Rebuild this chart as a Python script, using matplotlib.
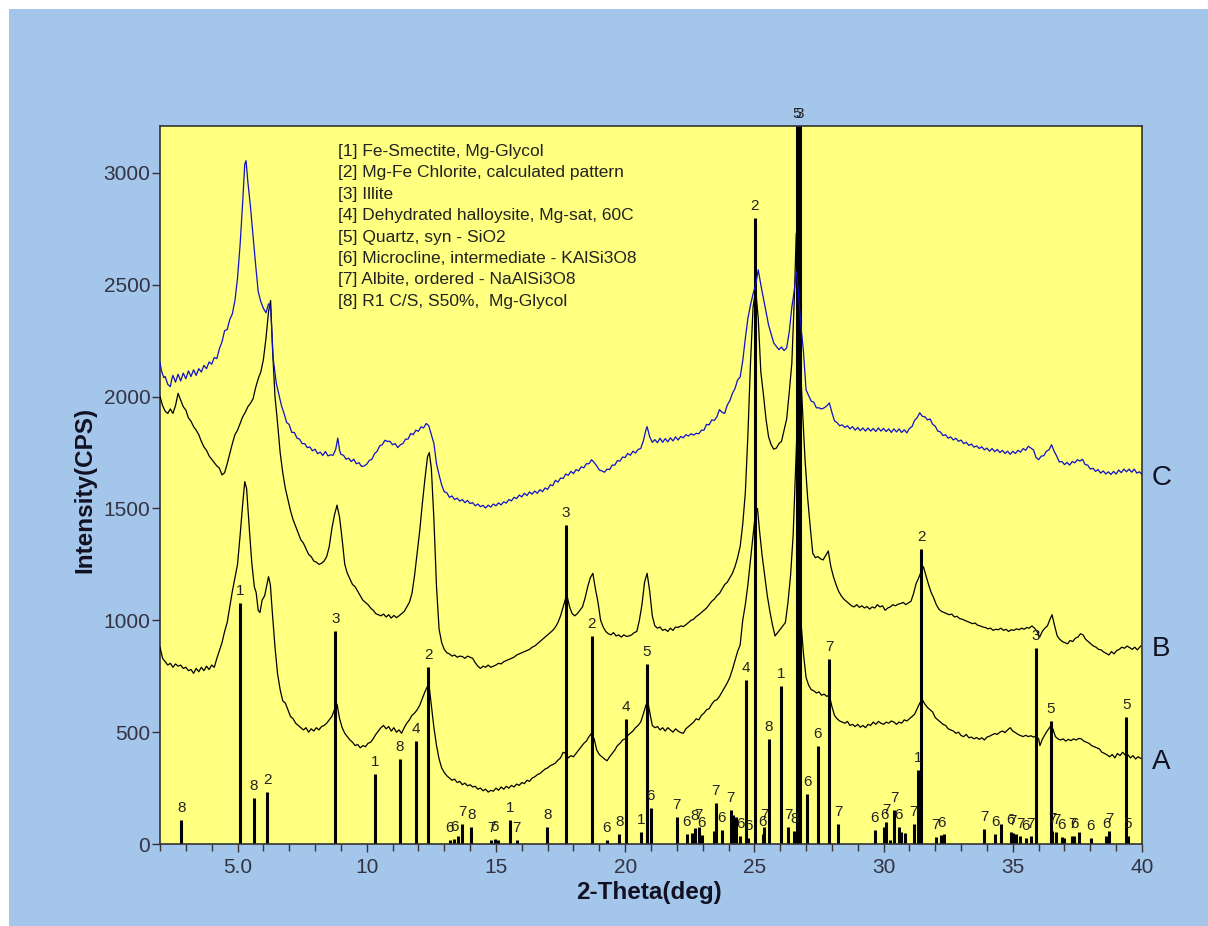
import numpy as np
import matplotlib
matplotlib.use("Agg")
import matplotlib.pyplot as plt
from matplotlib.patches import Rectangle
from matplotlib.ticker import MultipleLocator

plt.rcParams['font.family'] = ['Liberation Sans', 'DejaVu Sans']

# scan A (bottom, black)
trace_a = [
    (2.0, 880), (2.1, 830), (2.2, 815), (2.3, 800), (2.4, 808), (2.5, 790), (2.6, 805), (2.7, 795),
    (2.8, 800), (2.9, 785), (3.0, 790), (3.1, 775), (3.2, 780), (3.3, 763), (3.4, 785), (3.5, 770),
    (3.6, 790), (3.7, 775), (3.8, 795), (3.9, 780), (4.0, 800), (4.1, 790), (4.2, 830), (4.3, 865),
    (4.4, 900), (4.5, 950), (4.6, 990), (4.7, 1060), (4.8, 1130), (4.9, 1190), (5.0, 1250), (5.1, 1380),
    (5.2, 1520), (5.28, 1620), (5.35, 1590), (5.45, 1420), (5.55, 1260), (5.65, 1150), (5.72, 1125),
    (5.8, 1045), (5.87, 1035), (5.95, 1090), (6.05, 1110), (6.12, 1150), (6.2, 1195), (6.27, 1160),
    (6.35, 1030), (6.45, 880), (6.55, 760), (6.65, 690), (6.75, 640), (6.85, 630), (6.95, 600),
    (7.05, 570), (7.15, 560), (7.25, 540), (7.35, 530), (7.45, 520), (7.55, 510), (7.65, 520),
    (7.75, 500), (7.85, 515), (7.95, 505), (8.05, 520), (8.15, 510), (8.25, 525), (8.35, 530),
    (8.45, 540), (8.55, 555), (8.65, 570), (8.75, 600), (8.85, 625), (8.95, 560), (9.05, 520),
    (9.15, 495), (9.25, 480), (9.35, 465), (9.45, 455), (9.55, 440), (9.65, 445), (9.75, 430),
    (9.85, 440), (9.95, 435), (10.05, 450), (10.15, 455), (10.25, 470), (10.35, 490), (10.45, 505),
    (10.55, 520), (10.65, 530), (10.75, 515), (10.85, 525), (10.95, 505), (11.05, 520), (11.15, 500),
    (11.25, 510), (11.35, 495), (11.45, 520), (11.55, 540), (11.65, 555), (11.75, 575), (11.85, 585),
    (11.95, 600), (12.05, 620), (12.15, 650), (12.25, 680), (12.35, 705), (12.42, 700), (12.5, 620),
    (12.6, 520), (12.7, 440), (12.8, 380), (12.9, 340), (13.0, 320), (13.1, 305), (13.2, 295),
    (13.3, 285), (13.4, 290), (13.5, 275), (13.6, 280), (13.7, 265), (13.8, 272), (13.9, 260),
    (14.0, 265), (14.1, 255), (14.2, 258), (14.3, 245), (14.4, 250), (14.5, 238), (14.6, 245),
    (14.7, 232), (14.8, 240), (14.9, 236), (15.0, 250), (15.1, 240), (15.2, 255), (15.3, 245),
    (15.4, 258), (15.5, 250), (15.6, 262), (15.7, 255), (15.8, 268), (15.9, 262), (16.0, 275),
    (16.1, 270), (16.2, 285), (16.3, 280), (16.4, 295), (16.5, 300), (16.6, 310), (16.7, 315),
    (16.8, 325), (16.9, 335), (17.0, 340), (17.1, 350), (17.2, 355), (17.3, 362), (17.4, 375),
    (17.5, 385), (17.6, 410), (17.7, 405), (17.8, 385), (17.9, 395), (18.0, 390), (18.1, 405),
    (18.2, 420), (18.3, 435), (18.4, 450), (18.5, 460), (18.6, 480), (18.7, 495), (18.8, 470),
    (18.9, 420), (19.0, 400), (19.1, 390), (19.2, 380), (19.3, 372), (19.4, 390), (19.5, 405),
    (19.6, 420), (19.7, 440), (19.8, 450), (19.9, 465), (20.0, 470), (20.1, 485), (20.2, 495),
    (20.3, 505), (20.4, 520), (20.5, 530), (20.6, 545), (20.7, 580), (20.8, 620), (20.88, 635),
    (20.95, 590), (21.05, 530), (21.15, 520), (21.25, 525), (21.35, 510), (21.45, 520), (21.55, 505),
    (21.65, 520), (21.75, 510), (21.85, 500), (21.95, 515), (22.05, 505), (22.15, 498), (22.25, 495),
    (22.35, 515), (22.45, 525), (22.55, 535), (22.65, 545), (22.75, 560), (22.85, 555), (22.95, 575),
    (23.05, 585), (23.15, 600), (23.25, 605), (23.35, 625), (23.45, 640), (23.55, 645), (23.65, 660),
    (23.75, 680), (23.85, 700), (23.95, 720), (24.05, 745), (24.15, 780), (24.25, 820), (24.35, 860),
    (24.45, 890), (24.55, 1000), (24.65, 1070), (24.75, 1160), (24.85, 1270), (24.95, 1380),
    (25.05, 1490), (25.12, 1500), (25.2, 1400), (25.3, 1290), (25.4, 1200), (25.5, 1110), (25.6, 1040),
    (25.7, 980), (25.8, 930), (25.9, 945), (26.0, 960), (26.1, 975), (26.2, 990), (26.3, 1080),
    (26.4, 1200), (26.5, 1380), (26.6, 1700), (26.65, 1850), (26.72, 1500), (26.8, 1000), (26.9, 850),
    (27.0, 745), (27.1, 710), (27.2, 690), (27.3, 685), (27.4, 675), (27.5, 680), (27.6, 665),
    (27.7, 670), (27.8, 660), (27.9, 665), (28.0, 615), (28.1, 575), (28.2, 560), (28.3, 550),
    (28.4, 545), (28.5, 540), (28.6, 548), (28.7, 530), (28.8, 535), (28.9, 525), (29.0, 535),
    (29.1, 522), (29.2, 530), (29.3, 520), (29.4, 535), (29.5, 530), (29.6, 545), (29.7, 535),
    (29.8, 548), (29.9, 540), (30.0, 535), (30.1, 545), (30.2, 540), (30.3, 550), (30.4, 545),
    (30.5, 535), (30.6, 545), (30.7, 540), (30.8, 555), (30.9, 550), (31.0, 560), (31.1, 570),
    (31.2, 580), (31.3, 605), (31.4, 630), (31.5, 645), (31.6, 625), (31.7, 610), (31.8, 600),
    (31.9, 590), (32.0, 565), (32.1, 555), (32.2, 545), (32.3, 535), (32.4, 530), (32.5, 515),
    (32.6, 510), (32.7, 505), (32.8, 495), (32.9, 500), (33.0, 485), (33.1, 480), (33.2, 490),
    (33.3, 475), (33.4, 478), (33.5, 470), (33.6, 476), (33.7, 468), (33.8, 475), (33.9, 465),
    (34.0, 478), (34.1, 482), (34.2, 488), (34.3, 494), (34.4, 490), (34.5, 500), (34.6, 505),
    (34.7, 498), (34.8, 510), (34.9, 520), (35.0, 505), (35.1, 498), (35.2, 490), (35.3, 485),
    (35.4, 480), (35.5, 486), (35.6, 480), (35.7, 484), (35.8, 478), (35.9, 482), (36.0, 470),
    (36.05, 440), (36.15, 470), (36.3, 500), (36.45, 525), (36.55, 515), (36.65, 480), (36.75, 470),
    (36.85, 465), (36.95, 470), (37.05, 460), (37.15, 468), (37.25, 462), (37.35, 470), (37.45, 465),
    (37.55, 472), (37.65, 470), (37.75, 460), (37.85, 455), (37.95, 450), (38.05, 440), (38.15, 435),
    (38.25, 430), (38.35, 425), (38.45, 410), (38.55, 405), (38.65, 398), (38.75, 390), (38.85, 400),
    (38.95, 385), (39.05, 405), (39.15, 395), (39.25, 410), (39.35, 398), (39.45, 400), (39.55, 385),
    (39.65, 395), (39.75, 380), (39.85, 390), (39.95, 383),
]

# scan B (middle, black)
trace_b = [
    (2.0, 2000), (2.1, 1960), (2.2, 1935), (2.3, 1925), (2.4, 1945), (2.5, 1925), (2.6, 1960),
    (2.7, 2015), (2.8, 1985), (2.9, 1955), (3.0, 1940), (3.1, 1905), (3.2, 1890), (3.3, 1866),
    (3.4, 1850), (3.5, 1830), (3.6, 1800), (3.7, 1775), (3.8, 1760), (3.9, 1735), (4.0, 1720),
    (4.1, 1705), (4.2, 1690), (4.3, 1680), (4.4, 1650), (4.5, 1660), (4.6, 1700), (4.7, 1745),
    (4.8, 1790), (4.9, 1830), (5.0, 1850), (5.1, 1880), (5.2, 1910), (5.3, 1930), (5.4, 1955),
    (5.5, 1970), (5.6, 1990), (5.7, 2040), (5.8, 2080), (5.9, 2110), (6.0, 2165), (6.1, 2260),
    (6.2, 2380), (6.28, 2430), (6.36, 2200), (6.45, 2000), (6.55, 1880), (6.65, 1750), (6.75, 1660),
    (6.85, 1590), (6.95, 1540), (7.05, 1490), (7.15, 1450), (7.25, 1420), (7.35, 1390), (7.45, 1360),
    (7.55, 1345), (7.65, 1320), (7.75, 1295), (7.85, 1285), (7.95, 1265), (8.05, 1260), (8.15, 1250),
    (8.25, 1255), (8.35, 1265), (8.45, 1285), (8.55, 1330), (8.65, 1410), (8.75, 1470), (8.85, 1515),
    (8.95, 1460), (9.05, 1360), (9.15, 1250), (9.25, 1210), (9.35, 1185), (9.45, 1160), (9.55, 1150),
    (9.65, 1130), (9.75, 1110), (9.85, 1090), (9.95, 1080), (10.05, 1070), (10.15, 1055),
    (10.25, 1045), (10.35, 1030), (10.45, 1025), (10.55, 1020), (10.65, 1028), (10.75, 1015),
    (10.85, 1025), (10.95, 1010), (11.05, 1022), (11.15, 1012), (11.25, 1020), (11.35, 1030),
    (11.45, 1040), (11.55, 1060), (11.65, 1080), (11.75, 1120), (11.85, 1200), (11.95, 1300),
    (12.05, 1400), (12.15, 1520), (12.25, 1630), (12.35, 1730), (12.42, 1750), (12.5, 1680),
    (12.6, 1450), (12.7, 1150), (12.8, 960), (12.9, 900), (13.0, 870), (13.1, 855), (13.2, 850),
    (13.3, 840), (13.4, 845), (13.5, 835), (13.6, 840), (13.7, 838), (13.8, 830), (13.9, 840),
    (14.0, 835), (14.1, 830), (14.2, 810), (14.3, 795), (14.4, 785), (14.5, 795), (14.6, 790),
    (14.7, 800), (14.8, 790), (14.9, 795), (15.0, 800), (15.1, 808), (15.2, 805), (15.3, 815),
    (15.4, 820), (15.5, 825), (15.6, 830), (15.7, 835), (15.8, 845), (15.9, 850), (16.0, 855),
    (16.1, 860), (16.2, 865), (16.3, 870), (16.4, 880), (16.5, 885), (16.6, 895), (16.7, 905),
    (16.8, 915), (16.9, 925), (17.0, 935), (17.1, 945), (17.2, 955), (17.3, 970), (17.4, 990),
    (17.5, 1020), (17.6, 1060), (17.7, 1100), (17.75, 1110), (17.85, 1060), (17.95, 1030),
    (18.05, 1020), (18.15, 1030), (18.25, 1045), (18.35, 1060), (18.45, 1100), (18.55, 1150),
    (18.65, 1190), (18.75, 1210), (18.85, 1140), (18.95, 1080), (19.05, 1000), (19.15, 970),
    (19.25, 950), (19.35, 940), (19.45, 935), (19.55, 945), (19.65, 930), (19.75, 935), (19.85, 925),
    (19.95, 935), (20.05, 928), (20.15, 930), (20.25, 935), (20.35, 945), (20.45, 950), (20.55, 1000),
    (20.65, 1070), (20.75, 1170), (20.85, 1210), (20.95, 1130), (21.05, 1020), (21.15, 975),
    (21.25, 965), (21.35, 970), (21.45, 955), (21.55, 960), (21.65, 950), (21.75, 965), (21.85, 955),
    (21.95, 970), (22.05, 968), (22.15, 975), (22.25, 972), (22.35, 980), (22.45, 990), (22.55, 1000),
    (22.65, 1005), (22.75, 1017), (22.85, 1025), (22.95, 1035), (23.05, 1045), (23.15, 1055),
    (23.25, 1070), (23.35, 1085), (23.45, 1095), (23.55, 1110), (23.65, 1120), (23.75, 1140),
    (23.85, 1160), (23.95, 1170), (24.05, 1190), (24.15, 1210), (24.25, 1240), (24.35, 1280),
    (24.45, 1330), (24.55, 1430), (24.65, 1570), (24.75, 1830), (24.85, 2150), (24.95, 2400),
    (25.05, 2480), (25.15, 2350), (25.25, 2110), (25.35, 2010), (25.45, 1900), (25.55, 1820),
    (25.65, 1785), (25.75, 1765), (25.85, 1770), (25.95, 1790), (26.05, 1800), (26.15, 1850),
    (26.25, 1900), (26.35, 2020), (26.45, 2150), (26.55, 2450), (26.62, 2730), (26.7, 2500),
    (26.78, 2150), (26.88, 1900), (26.96, 1720), (27.06, 1550), (27.16, 1420), (27.26, 1300),
    (27.36, 1280), (27.46, 1285), (27.56, 1275), (27.66, 1270), (27.76, 1290), (27.86, 1310),
    (27.96, 1240), (28.06, 1195), (28.16, 1160), (28.26, 1130), (28.36, 1110), (28.46, 1095),
    (28.56, 1085), (28.66, 1075), (28.76, 1065), (28.86, 1060), (28.96, 1070), (29.06, 1058),
    (29.16, 1065), (29.26, 1055), (29.36, 1062), (29.46, 1050), (29.56, 1060), (29.66, 1055),
    (29.76, 1070), (29.86, 1060), (29.96, 1065), (30.06, 1045), (30.16, 1055), (30.26, 1060),
    (30.36, 1070), (30.46, 1065), (30.56, 1072), (30.66, 1075), (30.76, 1080), (30.86, 1070),
    (30.96, 1078), (31.06, 1085), (31.16, 1120), (31.26, 1165), (31.36, 1190), (31.46, 1220),
    (31.54, 1240), (31.64, 1200), (31.74, 1160), (31.84, 1125), (31.94, 1100), (32.04, 1070),
    (32.14, 1050), (32.24, 1040), (32.34, 1035), (32.44, 1030), (32.54, 1025), (32.64, 1028),
    (32.74, 1015), (32.84, 1018), (32.94, 1008), (33.04, 1005), (33.14, 1000), (33.24, 995),
    (33.34, 990), (33.44, 985), (33.54, 988), (33.64, 978), (33.74, 975), (33.84, 970), (33.94, 968),
    (34.04, 962), (34.14, 965), (34.24, 955), (34.34, 960), (34.44, 958), (34.54, 965), (34.64, 955),
    (34.74, 960), (34.84, 950), (34.94, 958), (35.04, 955), (35.14, 962), (35.24, 958), (35.34, 965),
    (35.44, 960), (35.54, 968), (35.64, 965), (35.74, 975), (35.84, 965), (35.94, 950), (36.04, 925),
    (36.14, 950), (36.24, 965), (36.34, 975), (36.44, 1005), (36.52, 1025), (36.62, 975),
    (36.72, 930), (36.82, 915), (36.92, 905), (37.02, 900), (37.12, 895), (37.22, 910), (37.32, 905),
    (37.42, 920), (37.52, 925), (37.62, 940), (37.72, 935), (37.82, 915), (37.92, 905), (38.02, 895),
    (38.12, 885), (38.22, 880), (38.32, 870), (38.42, 868), (38.52, 858), (38.62, 852), (38.72, 845),
    (38.82, 860), (38.92, 850), (39.02, 865), (39.12, 870), (39.22, 880), (39.32, 875), (39.42, 885),
    (39.52, 878), (39.62, 870), (39.72, 880), (39.82, 868), (39.95, 885),
]

# scan C (top, blue)
trace_c = [
    (2.0, 2151), (2.05, 2120), (2.1, 2100), (2.15, 2085), (2.2, 2090), (2.3, 2055), (2.4, 2045),
    (2.45, 2075), (2.5, 2095), (2.6, 2065), (2.7, 2100), (2.8, 2070), (2.9, 2105), (3.0, 2080),
    (3.1, 2115), (3.2, 2090), (3.3, 2120), (3.4, 2095), (3.5, 2125), (3.6, 2110), (3.7, 2140),
    (3.8, 2125), (3.9, 2155), (4.0, 2145), (4.1, 2175), (4.2, 2170), (4.3, 2215), (4.4, 2245),
    (4.5, 2295), (4.6, 2300), (4.7, 2345), (4.8, 2370), (4.9, 2430), (5.0, 2530), (5.1, 2680),
    (5.2, 2870), (5.28, 3040), (5.33, 3055), (5.4, 2960), (5.5, 2850), (5.6, 2720), (5.7, 2590),
    (5.8, 2470), (5.9, 2425), (6.0, 2395), (6.1, 2375), (6.2, 2415), (6.28, 2400), (6.38, 2170),
    (6.5, 2060), (6.6, 2010), (6.7, 1960), (6.8, 1925), (6.9, 1885), (7.0, 1875), (7.1, 1840),
    (7.2, 1840), (7.3, 1815), (7.4, 1810), (7.5, 1790), (7.6, 1790), (7.7, 1772), (7.8, 1775),
    (7.9, 1758), (8.0, 1765), (8.1, 1745), (8.2, 1752), (8.3, 1737), (8.4, 1755), (8.5, 1735),
    (8.6, 1740), (8.7, 1738), (8.8, 1765), (8.88, 1815), (8.95, 1760), (9.0, 1742), (9.1, 1738),
    (9.2, 1720), (9.3, 1725), (9.4, 1710), (9.5, 1720), (9.6, 1700), (9.7, 1705), (9.8, 1688),
    (9.9, 1690), (10.0, 1698), (10.1, 1715), (10.2, 1720), (10.3, 1745), (10.4, 1755), (10.5, 1780),
    (10.6, 1785), (10.7, 1805), (10.8, 1800), (10.9, 1800), (11.0, 1785), (11.1, 1790), (11.2, 1772),
    (11.3, 1785), (11.4, 1790), (11.5, 1810), (11.6, 1810), (11.7, 1835), (11.8, 1830), (11.9, 1850),
    (12.0, 1845), (12.1, 1865), (12.2, 1860), (12.3, 1880), (12.4, 1870), (12.5, 1830), (12.6, 1790),
    (12.7, 1700), (12.8, 1650), (12.9, 1605), (13.0, 1575), (13.1, 1570), (13.2, 1550), (13.3, 1556),
    (13.4, 1540), (13.5, 1546), (13.6, 1533), (13.7, 1540), (13.8, 1526), (13.9, 1536), (14.0, 1522),
    (14.1, 1526), (14.2, 1512), (14.3, 1520), (14.4, 1508), (14.5, 1514), (14.6, 1502), (14.7, 1515),
    (14.8, 1506), (14.9, 1520), (15.0, 1512), (15.1, 1525), (15.2, 1516), (15.3, 1530), (15.4, 1524),
    (15.5, 1540), (15.6, 1534), (15.7, 1550), (15.8, 1544), (15.9, 1560), (16.0, 1552), (16.1, 1568),
    (16.2, 1558), (16.3, 1574), (16.4, 1564), (16.5, 1578), (16.6, 1568), (16.7, 1584), (16.8, 1575),
    (16.9, 1592), (17.0, 1585), (17.1, 1606), (17.2, 1602), (17.3, 1626), (17.4, 1618), (17.5, 1636),
    (17.6, 1634), (17.7, 1654), (17.8, 1648), (17.9, 1666), (18.0, 1656), (18.1, 1674), (18.2, 1668),
    (18.3, 1686), (18.4, 1682), (18.5, 1700), (18.6, 1700), (18.7, 1718), (18.8, 1706), (18.9, 1690),
    (19.0, 1672), (19.1, 1668), (19.2, 1662), (19.3, 1676), (19.4, 1674), (19.5, 1694), (19.6, 1694),
    (19.7, 1714), (19.8, 1712), (19.9, 1730), (20.0, 1728), (20.1, 1746), (20.2, 1738), (20.3, 1756),
    (20.4, 1748), (20.5, 1764), (20.6, 1768), (20.7, 1800), (20.8, 1850), (20.85, 1866),
    (20.95, 1820), (21.05, 1796), (21.15, 1808), (21.25, 1794), (21.35, 1814), (21.45, 1796),
    (21.55, 1812), (21.65, 1798), (21.75, 1816), (21.85, 1802), (21.95, 1820), (22.05, 1806),
    (22.15, 1822), (22.25, 1816), (22.35, 1830), (22.45, 1824), (22.55, 1834), (22.65, 1828),
    (22.75, 1836), (22.85, 1834), (22.95, 1850), (23.05, 1850), (23.15, 1876), (23.25, 1874),
    (23.35, 1896), (23.45, 1894), (23.55, 1910), (23.65, 1942), (23.75, 1930), (23.85, 1925),
    (23.95, 1962), (24.05, 1982), (24.15, 2014), (24.25, 2036), (24.35, 2074), (24.45, 2088),
    (24.55, 2160), (24.65, 2260), (24.75, 2350), (24.85, 2410), (24.95, 2460), (25.05, 2500),
    (25.15, 2567), (25.25, 2500), (25.35, 2440), (25.45, 2380), (25.55, 2320), (25.65, 2280),
    (25.75, 2240), (25.85, 2225), (25.95, 2210), (26.05, 2222), (26.15, 2206), (26.25, 2218),
    (26.35, 2290), (26.45, 2400), (26.55, 2480), (26.62, 2560), (26.7, 2470), (26.8, 2320),
    (26.9, 2200), (27.0, 2030), (27.1, 2005), (27.2, 1980), (27.3, 1975), (27.4, 1950), (27.5, 1950),
    (27.6, 1945), (27.7, 1950), (27.8, 1958), (27.9, 1972), (28.0, 1930), (28.1, 1892), (28.2, 1884),
    (28.3, 1870), (28.4, 1874), (28.5, 1862), (28.6, 1870), (28.7, 1856), (28.8, 1866), (28.9, 1850),
    (29.0, 1862), (29.1, 1848), (29.2, 1860), (29.3, 1846), (29.4, 1860), (29.5, 1846), (29.6, 1858),
    (29.7, 1844), (29.8, 1860), (29.9, 1846), (30.0, 1858), (30.1, 1844), (30.2, 1856), (30.3, 1840),
    (30.4, 1856), (30.5, 1842), (30.6, 1856), (30.7, 1840), (30.8, 1852), (30.9, 1838), (31.0, 1858),
    (31.1, 1866), (31.2, 1894), (31.3, 1906), (31.4, 1928), (31.5, 1912), (31.6, 1910), (31.7, 1896),
    (31.8, 1900), (31.9, 1876), (32.0, 1868), (32.1, 1846), (32.2, 1842), (32.3, 1826), (32.4, 1830),
    (32.5, 1814), (32.6, 1820), (32.7, 1806), (32.8, 1814), (32.9, 1800), (33.0, 1806), (33.1, 1790),
    (33.2, 1796), (33.3, 1782), (33.4, 1788), (33.5, 1774), (33.6, 1780), (33.7, 1768), (33.8, 1776),
    (33.9, 1762), (34.0, 1770), (34.1, 1756), (34.2, 1768), (34.3, 1754), (34.4, 1764), (34.5, 1750),
    (34.6, 1760), (34.7, 1746), (34.8, 1756), (34.9, 1742), (35.0, 1756), (35.1, 1746), (35.2, 1760),
    (35.3, 1752), (35.4, 1768), (35.5, 1760), (35.6, 1778), (35.7, 1770), (35.8, 1762), (35.9, 1728),
    (36.0, 1718), (36.1, 1734), (36.2, 1736), (36.3, 1756), (36.4, 1762), (36.5, 1785), (36.6, 1756),
    (36.7, 1734), (36.8, 1708), (36.9, 1710), (37.0, 1696), (37.1, 1706), (37.2, 1694), (37.3, 1710),
    (37.4, 1704), (37.5, 1718), (37.6, 1712), (37.7, 1720), (37.8, 1696), (37.9, 1694), (38.0, 1676),
    (38.1, 1680), (38.2, 1666), (38.3, 1674), (38.4, 1658), (38.5, 1668), (38.6, 1654), (38.7, 1664),
    (38.8, 1652), (38.9, 1666), (39.0, 1654), (39.1, 1672), (39.2, 1660), (39.3, 1676), (39.4, 1664),
    (39.5, 1676), (39.6, 1662), (39.7, 1676), (39.8, 1658), (39.9, 1664), (40.0, 1652),
]

# reference pattern sticks: position, height, phase number
stick_x = [2.83, 5.11, 5.63, 6.15, 8.79, 10.32, 11.28, 11.9, 12.38, 13.22, 13.38, 13.52, 13.7,
           14.05, 14.82, 14.95, 15.08, 15.54, 15.8, 16.99, 17.71, 18.7, 19.28, 19.77, 20.03, 20.6,
           20.83, 20.99, 21.99, 22.38, 22.57, 22.7, 22.85, 22.96, 23.45, 23.5, 23.74, 24.08, 24.19,
           24.29, 24.45, 24.66, 24.77, 25.02, 25.32, 25.38, 25.56, 26.02, 26.32, 26.55, 26.65, 26.75,
           27.05, 27.45, 27.89, 28.25, 29.65, 30.02, 30.1, 30.25, 30.42, 30.58, 30.67, 30.83, 31.16,
           31.35, 31.45, 32.02, 32.24, 32.34, 33.89, 34.32, 34.55, 34.92, 35.0, 35.13, 35.29, 35.5,
           35.7, 35.9, 36.47, 36.52, 36.68, 36.9, 36.99, 37.3, 37.38, 37.56, 38.02, 38.61, 38.74,
           39.39, 39.45]
stick_h = [107, 1079, 204, 234, 953, 312, 379, 461, 793, 18, 22, 35, 89,
           77, 18, 22, 20, 107, 18, 77, 1427, 930, 18, 43, 558, 54,
           804, 163, 119, 43, 50, 70, 75, 40, 60, 182, 63, 152, 130,
           122, 36, 733, 26, 2800, 43, 77, 468, 707, 77, 60, 3500, 3500,
           222, 438, 827, 89, 63, 77, 99, 18, 152, 77, 54, 50, 89,
           331, 1318, 30, 41, 45, 66, 45, 89, 54, 50, 45, 36, 26,
           36, 875, 550, 60, 54, 33, 26, 36, 36, 54, 26, 36, 59,
           570, 36]
stick_lab = ['8', '1', '8', '2', '3', '1', '8', '4', '2', '6', '6', '', '7',
             '8', '7', '6', '', '1', '7', '8', '3', '2', '6', '8', '4', '1',
             '5', '6', '7', '6', '', '8', '7', '6', '', '7', '6', '7', '',
             '', '6', '4', '6', '2', '6', '7', '8', '1', '7', '8', '5', '3',
             '6', '6', '7', '7', '6', '6', '7', '', '7', '6', '', '', '7',
             '1', '2', '7', '6', '', '7', '6', '', '6', '7', '', '7', '6',
             '7', '3', '5', '7', '7', '6', '', '7', '6', '', '6', '6', '7',
             '5', '5']

phases = ['[1] Fe-Smectite, Mg-Glycol',
          '[2] Mg-Fe Chlorite, calculated pattern',
          '[3] Illite',
          '[4] Dehydrated halloysite, Mg-sat, 60C',
          '[5] Quartz, syn - SiO2',
          '[6] Microcline, intermediate - KAlSi3O8',
          '[7] Albite, ordered - NaAlSi3O8',
          '[8] R1 C/S, S50%,  Mg-Glycol']

scan_names = ['A', 'B', 'C']
x_ticks = [5, 10, 15, 20, 25, 30, 35, 40]
x_tick_labels = ['5.0', '10', '15', '20', '25', '30', '35', '40']
y_ticks = [0, 500, 1000, 1500, 2000, 2500, 3000]

W, H = 1208, 926
fig = plt.figure(figsize=(W / 100, H / 100), dpi=100, facecolor='white')
fig.patches.append(Rectangle((9 / W, 0), 1, 1 - 9 / H, transform=fig.transFigure,
                             facecolor='#A3C6EA', edgecolor='none', zorder=-5))

ax = fig.add_axes([160 / W, 1 - 844 / H, (1142 - 160) / W, (844 - 126) / H])
ax.set_facecolor('#FFFF80')
ymax = 3210
ax.set_xlim(2, 40)
ax.set_ylim(0, ymax)

ax.vlines(stick_x, 0, stick_h, color='black', lw=2.2, zorder=2)
for x, h, lab in zip(stick_x, stick_h, stick_lab):
    if lab:
        ax.text(x, min(h, ymax) + 22, lab, ha='center', va='bottom', fontsize=11,
                color='#222222', clip_on=False, zorder=4)

traces = [trace_a, trace_b, trace_c]
colors = ['black', 'black', '#1010C8']
for tr, col, name in zip(traces, colors, scan_names):
    xs = np.array([p[0] for p in tr])
    ys = np.array([p[1] for p in tr])
    ax.plot(xs, ys, color=col, lw=0.9, zorder=3)
    ax.text(40.75, ys[-1] - 15, name, ha='center', va='center', fontsize=20,
            color='#111122', clip_on=False)

for i, line in enumerate(phases):
    ax.text(8.88, 3096 - i * 95.7, line, ha='left', va='center', fontsize=12.5, color='#222222')

ax.set_xticks(x_ticks)
ax.set_xticklabels(x_tick_labels)
ax.xaxis.set_minor_locator(MultipleLocator(1))
ax.set_yticks(y_ticks)
ax.tick_params(axis='both', which='major', direction='out', length=6, width=1,
               color='#333333', labelcolor='#333344', labelsize=15)
ax.tick_params(axis='x', which='major', pad=4)
ax.tick_params(axis='y', which='major', pad=1)
ax.tick_params(axis='x', which='minor', direction='out', length=5, width=1, color='#333333')
for s in ax.spines.values():
    s.set_color('#333333')
    s.set_linewidth(1.2)

fig.text(649 / W, 1 - 892 / H, '2-Theta(deg)', ha='center', va='center',
         fontsize=17.5, fontweight='bold', color='#111122')
fig.text(85 / W, 1 - 490 / H, 'Intensity(CPS)', ha='center', va='center', rotation=90,
         fontsize=17.5, fontweight='bold', color='#111122')

fig.savefig('out.png', dpi=100, facecolor=fig.get_facecolor())
